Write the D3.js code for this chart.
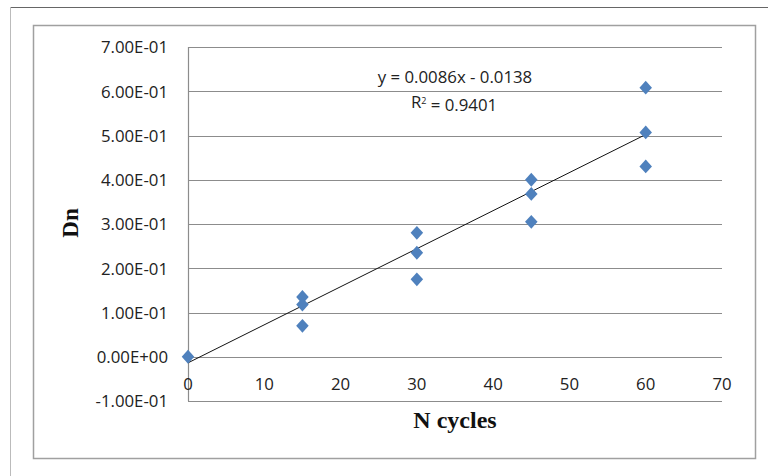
<!DOCTYPE html>
<html><head><meta charset="utf-8">
<script src="https://cdn.jsdelivr.net/npm/d3@7"></script>
<style>body{margin:0;background:#fff}svg{display:block}</style>
</head><body>
<script>
const cycles = [0, 15, 15, 15, 30, 30, 30, 45, 45, 45, 60, 60, 60];
const dn = [0, 0.135, 0.118, 0.070, 0.280, 0.235, 0.175, 0.400, 0.368, 0.305, 0.608, 0.507, 0.430];
const xTicks = [0, 10, 20, 30, 40, 50, 60, 70];
const yTicks = [-0.1, 0, 0.1, 0.2, 0.3, 0.4, 0.5, 0.6, 0.7];
const yTickLabels = ["-1.00E-01","0.00E+00","1.00E-01","2.00E-01","3.00E-01","4.00E-01","5.00E-01","6.00E-01","7.00E-01"];
const slope = 0.0086, intercept = -0.0138;
const eqText = "y = 0.0086x - 0.0138";
const r2Text = "0.9401";

const W = 768, H = 476;
const svg = d3.select("body").append("svg").attr("width", W).attr("height", H);
// outer frame
svg.append("line").attr("x1",10).attr("x2",W).attr("y1",7.5).attr("y2",7.5).attr("stroke","#666");
svg.append("line").attr("x1",10.5).attr("x2",10.5).attr("y1",7).attr("y2",H).attr("stroke","#bbb");
// inner frame
svg.append("rect").attr("x",33.5).attr("y",25.5).attr("width",722).attr("height",433)
  .attr("fill","none").attr("stroke","#a0a0a0").attr("stroke-width",1.5);

const x = d3.scaleLinear().domain([0,70]).range([188,722]);
const y = d3.scaleLinear().domain([-0.1,0.7]).range([401,47]);

// gridlines
svg.append("g").selectAll("line").data(yTicks).join("line")
  .attr("x1",x(0)).attr("x2",x(70))
  .attr("y1",d=>Math.round(y(d))+0.5).attr("y2",d=>Math.round(y(d))+0.5)
  .attr("stroke","#8c8c8c").attr("stroke-width",1.2);
// vertical axis line
svg.append("line").attr("x1",x(0)+0.5).attr("x2",x(0)+0.5).attr("y1",y(0.7)).attr("y2",y(-0.1))
  .attr("stroke","#8c8c8c").attr("stroke-width",1.2);

const tickFont = "'Open Sans', 'Liberation Sans', sans-serif";
// y tick labels
svg.append("g").selectAll("text").data(yTicks).join("text")
  .attr("x",168).attr("y",d=>y(d)+0.5).attr("dy","0.35em").attr("text-anchor","end")
  .attr("font-family",tickFont).attr("font-size",16.8).attr("fill","#222")
  .text((d,i)=>yTickLabels[i]);
// x tick labels
svg.append("g").selectAll("text").data(xTicks).join("text")
  .attr("x",d=>x(d)).attr("y",y(0)+27).attr("dy","0.35em").attr("text-anchor","middle")
  .attr("font-family",tickFont).attr("font-size",16.8).attr("fill","#222")
  .text(d=>d);

// axis titles
svg.append("text").attr("x",455).attr("y",428).attr("text-anchor","middle")
  .attr("font-family","'Liberation Serif', serif").attr("font-weight","bold").attr("font-size",24)
  .attr("fill","#111").text("N cycles");
svg.append("text").attr("transform","translate(78,223) rotate(-90)").attr("text-anchor","middle")
  .attr("font-family","'Liberation Serif', serif").attr("font-weight","bold").attr("font-size",23)
  .attr("fill","#111").text("Dn");

// trendline
const xs = d3.extent(cycles);
svg.append("line").attr("x1",x(xs[0])).attr("y1",y(slope*xs[0]+intercept))
  .attr("x2",x(xs[1])).attr("y2",y(slope*xs[1]+intercept))
  .attr("stroke","#111").attr("stroke-width",1);

// markers
const diamond = d3.symbol().type(d3.symbolDiamond2).size(100);
svg.append("g").selectAll("path").data(cycles.map((c,i)=>[c,dn[i]])).join("path")
  .attr("transform",d=>`translate(${x(d[0])},${y(d[1])}) scale(1,1.1)`)
  .attr("d",diamond).attr("fill","#4f81bd");

// equation
svg.append("text").attr("x",455).attr("y",77).attr("dy","0.35em").attr("text-anchor","middle")
  .attr("font-family",tickFont).attr("font-size",16.8).attr("fill","#222").text(eqText);
const r = svg.append("text").attr("x",454).attr("y",102).attr("dy","0.35em").attr("text-anchor","middle")
  .attr("font-family",tickFont).attr("font-size",16.8).attr("fill","#222");
r.append("tspan").text("R");
r.append("tspan").attr("dy","-0.45em").attr("font-size",9).text("2");
r.append("tspan").attr("dy","0.45em").text(" = " + r2Text);
</script>
</body></html>
